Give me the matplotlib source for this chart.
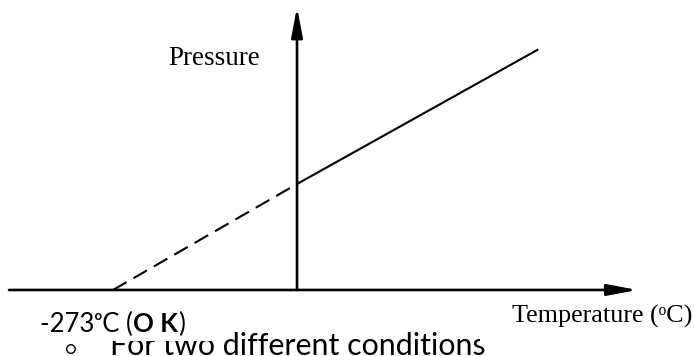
import matplotlib
matplotlib.use("Agg")
import matplotlib.pyplot as plt
from matplotlib.patches import Rectangle

# pressure of a fixed gas volume against temperature (degC), arbitrary units
temp_extrap = [-273, 0]
pres_extrap = [0.0, 1.0]
temp_meas = [0, 358]
pres_meas = [1.0, 2.27]

# axis extents and view limits
x_axis = (-427.3, 505.0)
y_axis = (0.0, 2.67)
xlim = (-440.7, 590.5)
ylim = (-0.623, 2.736)

serif = ["Liberation Serif", "DejaVu Serif"]
sans = ["Lato", "DejaVu Sans"]

fig = plt.figure(figsize=(6.95, 3.56), dpi=100)
ax = fig.add_axes([0, 0, 1, 1])
ax.set_xlim(*xlim)
ax.set_ylim(*ylim)
ax.axis("off")

arrow = dict(arrowstyle="-|>,head_length=18,head_width=3.4", mutation_scale=1,
             lw=1.9, color="black", shrinkA=0, shrinkB=0)
ax.annotate("", xy=(x_axis[1], 0), xytext=(x_axis[0], 0), arrowprops=arrow)
ax.annotate("", xy=(0, y_axis[1]), xytext=(0, y_axis[0]), arrowprops=arrow)

ax.plot(temp_extrap, pres_extrap, color="black", lw=1.5, dashes=(7.5, 3.8))
ax.plot(temp_meas, pres_meas, color="black", lw=1.5, solid_capstyle="butt")

# body text line sitting behind the figure labels
fig.text(0.0935, 0.002, "\u25cb", family=sans, fontsize=13, va="baseline", zorder=1)
fig.text(0.158, 0.002, "For two different conditions", family=sans, fontsize=21.9,
         va="baseline", zorder=1)

# white label boxes covering the text behind
fig.patches.append(Rectangle((0.03, 0.042), 0.28, 0.12, transform=fig.transFigure,
                             facecolor="white", edgecolor="none", zorder=2))
fig.patches.append(Rectangle((0.69, 0.036), 0.31, 0.13, transform=fig.transFigure,
                             facecolor="white", edgecolor="none", zorder=2))

fig.text(0.2417, 0.817, "Pressure", family=serif, fontsize=19.5, va="baseline", zorder=3)
fig.text(0.737, 0.0927, "Temperature (\u1d52C)", family=serif, fontsize=18.8,
         va="baseline", zorder=3)

# zero-point label, "O K" in bold
renderer = fig.canvas.get_renderer()
x = 0.0576
for piece, weight in [("-273\u1d52C (", "normal"), ("O K", "bold"), (")", "normal")]:
    t = fig.text(x, 0.0674, piece, family=sans, fontsize=18.5, fontweight=weight,
                 va="baseline", zorder=3)
    x += t.get_window_extent(renderer).width / fig.bbox.width

fig.savefig("out.png", dpi=100)
